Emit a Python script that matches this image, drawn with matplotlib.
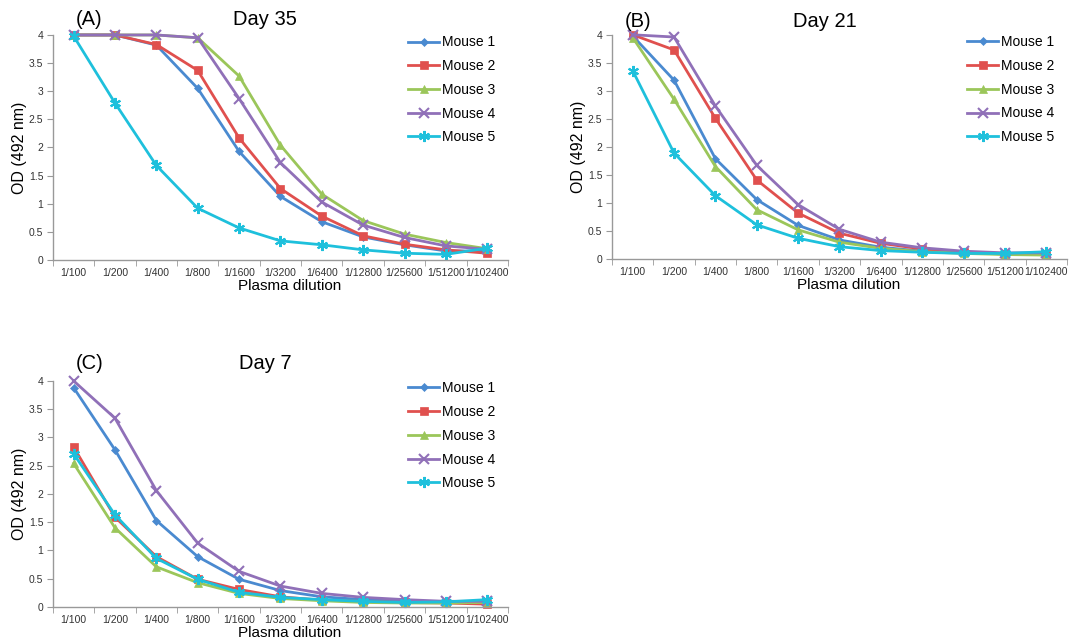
import matplotlib
matplotlib.use("Agg")
import matplotlib.pyplot as plt
from matplotlib.ticker import FixedLocator, NullFormatter

plt.rcParams["font.family"] = ["Liberation Sans", "DejaVu Sans"]

dilutions = ["1/100", "1/200", "1/400", "1/800", "1/1600", "1/3200",
             "1/6400", "1/12800", "1/25600", "1/51200", "1/102400"]
mice = ["Mouse 1", "Mouse 2", "Mouse 3", "Mouse 4", "Mouse 5"]

# OD readings per mouse, one list per bleed day
day35 = [
    [4.00, 4.00, 3.82, 3.05, 1.93, 1.13, 0.68, 0.41, 0.27, 0.16, 0.16],
    [4.00, 4.00, 3.83, 3.37, 2.17, 1.27, 0.78, 0.43, 0.28, 0.18, 0.12],
    [4.00, 4.00, 4.00, 3.95, 3.27, 2.04, 1.17, 0.70, 0.46, 0.31, 0.20],
    [4.00, 4.00, 4.00, 3.95, 2.87, 1.73, 1.03, 0.62, 0.40, 0.25, 0.19],
    [3.98, 2.79, 1.68, 0.92, 0.57, 0.34, 0.27, 0.18, 0.12, 0.10, 0.21],
]
day21 = [
    [3.98, 3.19, 1.79, 1.06, 0.60, 0.34, 0.21, 0.14, 0.11, 0.09, 0.10],
    [4.00, 3.73, 2.51, 1.41, 0.82, 0.46, 0.28, 0.18, 0.12, 0.09, 0.08],
    [3.95, 2.85, 1.65, 0.88, 0.52, 0.30, 0.19, 0.13, 0.10, 0.08, 0.07],
    [4.00, 3.96, 2.73, 1.67, 0.97, 0.53, 0.30, 0.20, 0.14, 0.11, 0.11],
    [3.36, 1.89, 1.13, 0.61, 0.37, 0.22, 0.15, 0.12, 0.10, 0.10, 0.13],
]
day7 = [
    [3.88, 2.78, 1.53, 0.89, 0.49, 0.29, 0.18, 0.13, 0.10, 0.09, 0.09],
    [2.83, 1.59, 0.89, 0.49, 0.31, 0.18, 0.12, 0.10, 0.08, 0.07, 0.05],
    [2.54, 1.40, 0.71, 0.43, 0.24, 0.15, 0.11, 0.08, 0.07, 0.07, 0.08],
    [4.00, 3.34, 2.06, 1.13, 0.63, 0.37, 0.24, 0.17, 0.13, 0.10, 0.10],
    [2.71, 1.63, 0.86, 0.49, 0.26, 0.17, 0.13, 0.10, 0.08, 0.09, 0.13],
]

colors = ["#4a8ad0", "#e0504e", "#9bc65a", "#9070b8", "#1ec0dc"]
markers = ["D", "s", "^", "x", (6, 2, 0)]
msizes = [4, 6, 6, 7, 8]

fig = plt.figure(figsize=(10.72, 6.44), dpi=100)
# rect, panel tag, tag x, title, title height, data
panels = [
    ([0.0494, 0.5963, 0.4244, 0.3494], "(A)", 0.05, "Day 35", 1.067, day35),
    ([0.5709, 0.5978, 0.4244, 0.3482], "(B)", 0.028, "Day 21", 1.058, day21),
    ([0.0494, 0.0575, 0.4244, 0.3510], "(C)", 0.05, "Day 7", 1.075, day7),
]

x = list(range(len(dilutions)))
for rect, tag, tag_x, title, title_y, data in panels:
    ax = fig.add_axes(rect)
    for i, series in enumerate(data):
        ax.plot(x, series, color=colors[i], marker=markers[i],
                markersize=msizes[i], markeredgewidth=1.5 if i >= 3 else 0.5,
                markeredgecolor=colors[i], linewidth=2, label=mice[i],
                clip_on=False)
    ax.set_xlim(-0.5, len(dilutions) - 0.5)
    ax.set_ylim(0, 4)
    ax.set_yticks([0, 0.5, 1, 1.5, 2, 2.5, 3, 3.5, 4])
    ax.set_yticklabels(["0", "0.5", "1", "1.5", "2", "2.5", "3", "3.5", "4"])
    ax.set_xticks(x)
    ax.set_xticklabels(dilutions)
    ax.xaxis.set_minor_locator(FixedLocator([v - 0.5 for v in range(len(dilutions) + 1)]))
    ax.xaxis.set_minor_formatter(NullFormatter())
    ax.tick_params(axis="x", which="major", length=0, labelsize=7.5,
                   labelcolor="#333333", pad=6)
    ax.tick_params(axis="x", which="minor", length=4, color="#999999")
    ax.tick_params(axis="y", length=4, color="#999999", labelsize=7.5,
                   labelcolor="#333333", pad=3)
    for side in ("top", "right"):
        ax.spines[side].set_visible(False)
    for side in ("left", "bottom"):
        ax.spines[side].set_color("#999999")
        ax.spines[side].set_linewidth(1)
    ax.set_ylabel("OD (492 nm)", fontsize=11.5, labelpad=1)
    ax.set_xlabel("Plasma dilution", fontsize=11, labelpad=0)
    ax.xaxis.set_label_coords(0.52, -0.086)
    ax.text(tag_x, title_y, tag, transform=ax.transAxes, fontsize=14.5,
            ha="left", va="center")
    ax.text(0.467, title_y, title, transform=ax.transAxes, fontsize=14.5,
            ha="center", va="center")
    ax.legend(loc="upper right", bbox_to_anchor=(0.99, 1.035), frameon=False,
              fontsize=10, handlelength=2.2, handletextpad=0.2,
              labelspacing=0.7, borderaxespad=0.2)

fig.savefig("out.png", dpi=100)
